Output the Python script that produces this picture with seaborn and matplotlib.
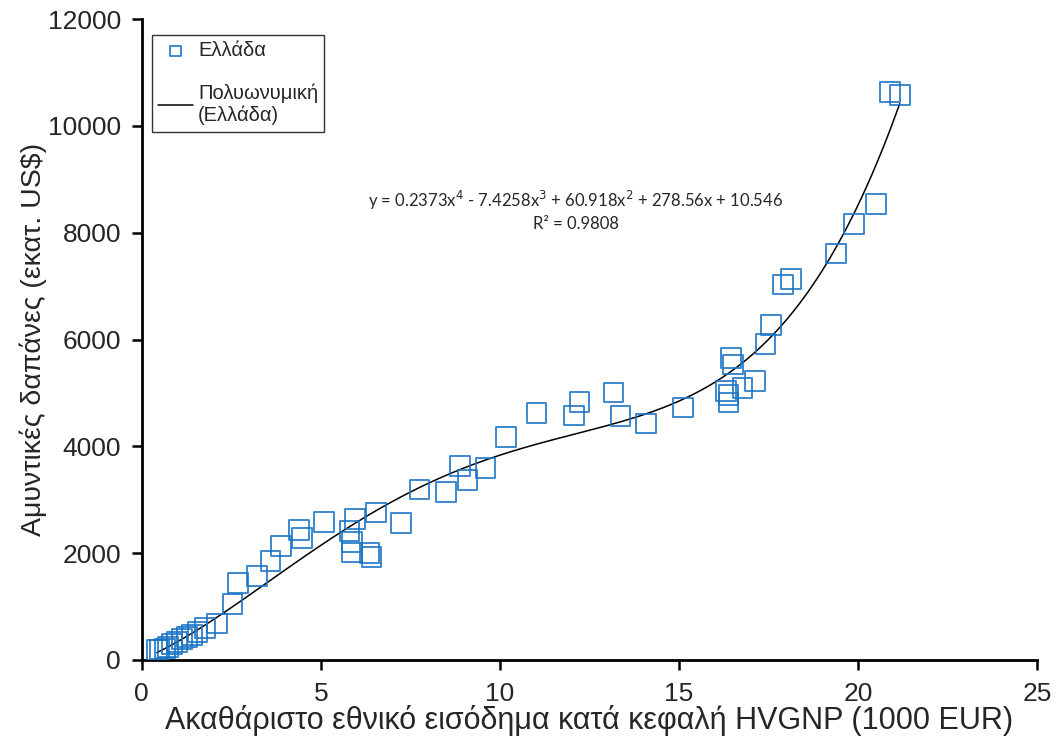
import numpy as np
import pandas as pd
import matplotlib
matplotlib.use("Agg")
import matplotlib.pyplot as plt
import seaborn as sns

# HVGNP per capita (1000 EUR) vs defence spending (million US$), Greece
gnp = [0.42, 0.50, 0.64, 0.73, 0.84, 0.98, 1.12, 1.26, 1.40, 1.56, 1.76,
       2.11, 2.53, 2.68, 3.21, 3.60, 3.89, 4.39, 4.48, 5.09, 5.80, 5.87,
       5.87, 5.96, 6.36, 6.42, 6.55, 7.24, 7.76, 8.49, 8.89, 9.10, 9.60,
       10.18, 11.03, 12.07, 12.23, 13.18, 13.37, 14.09, 15.12, 16.31, 16.39,
       16.39, 16.45, 16.51, 16.78, 17.12, 17.42, 17.58, 17.91, 18.13, 19.39,
       19.90, 20.50, 20.89, 21.17]
spend = [190, 195, 215, 245, 300, 340, 390, 430, 470, 520, 600,
         680, 1050, 1440, 1570, 1850, 2130, 2430, 2280, 2580, 2410, 2210,
         2010, 2640, 2000, 1930, 2760, 2570, 3190, 3150, 3630, 3370, 3590,
         4180, 4620, 4580, 4830, 5010, 4570, 4430, 4730, 5040, 4820,
         4960, 5660, 5530, 5090, 5230, 5920, 6270, 7030, 7130, 7610,
         8160, 8540, 10640, 10580]

# trendline coefficients as printed on the chart (highest power first)
coefs = [0.2373, -7.4258, 60.918, 278.56, 10.546]
r2 = 0.9808

df = pd.DataFrame({"gnp": gnp, "spend": spend})
xs = np.linspace(min(gnp), max(gnp), 300)
trend = pd.DataFrame({"gnp": xs, "spend": np.polyval(coefs, xs)})

sns.set_style("white")
plt.rcParams["font.family"] = ["Liberation Sans", "DejaVu Sans"]

fig = plt.figure(figsize=(10.58, 7.37), dpi=100)
ax = fig.add_axes([0.134, 0.1045, 0.846, 0.8695])

sns.scatterplot(data=df, x="gnp", y="spend", ax=ax, marker="s", s=200,
                facecolor="none", edgecolor="#1a74c4", linewidth=1.4,
                alpha=0.85, label="Ελλάδα", zorder=3)
sns.lineplot(data=trend, x="gnp", y="spend", ax=ax, color="black",
             linewidth=1.1, label="Πολυωνυμική\n(Ελλάδα)", zorder=2)

ax.set_xlim(0, 25)
ax.set_ylim(0, 12000)
ax.set_xticks(range(0, 26, 5))
ax.set_yticks(range(0, 12001, 2000))
ax.tick_params(axis="both", direction="out", length=7, width=1.8,
               labelsize=19, color="black", bottom=True, left=True, pad=8)
ax.tick_params(axis="x", pad=9)
for side in ["top", "right"]:
    ax.spines[side].set_visible(False)
for side in ["left", "bottom"]:
    ax.spines[side].set_linewidth(2)
    ax.spines[side].set_color("black")

ax.set_xlabel("Ακαθάριστο εθνικό εισόδημα κατά κεφαλή HVGNP (1000 EUR)",
              fontsize=22, labelpad=-1)
ax.set_ylabel("Αμυντικές δαπάνες (εκατ. US$)", fontsize=20.5)
ax.yaxis.set_label_coords(-0.106, 0.5)

eq = "y = 0.2373x$^4$ - 7.4258x$^3$ + 60.918x$^2$ + 278.56x + 10.546"
ax.text(12.12, 8610, eq, ha="center", va="center", fontsize=12,
        family=["Lato", "DejaVu Sans"])
ax.text(12.12, 8160, f"R² = {r2}", ha="center", va="center", fontsize=12,
        family=["Lato", "DejaVu Sans"])

leg = ax.legend(loc="upper left", bbox_to_anchor=(0.011, 0.975),
                borderaxespad=0,
                prop={"family": "Liberation Sans", "size": 14.5},
                frameon=True, fancybox=False, edgecolor="black",
                markerscale=0.55, handlelength=1.75, labelspacing=1.15,
                borderpad=0.3, handletextpad=0.25)
leg.get_frame().set_linewidth(1)

fig.savefig("out.png", dpi=100)
